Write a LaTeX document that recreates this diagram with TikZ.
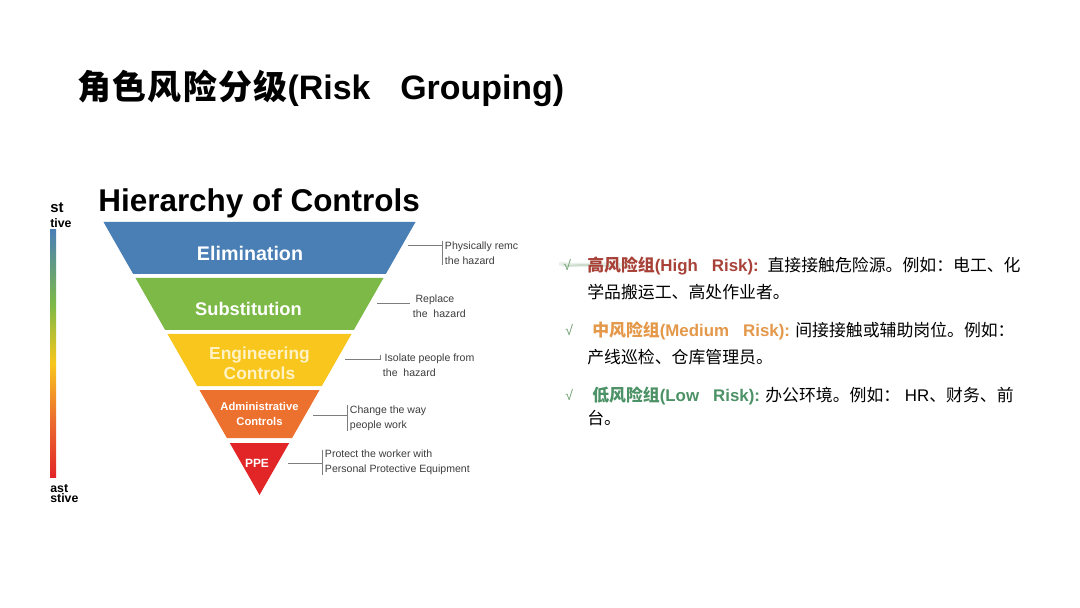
\documentclass[tikz,border=0pt]{standalone}
\usepackage{fontspec}
\setmainfont{Liberation Sans}
\newfontfamily\cjk{Noto Sans CJK SC}
\newfontfamily\cjkwide{Noto Sans CJK SC}[LetterSpace=4]
\usepackage{tikz}

\definecolor{elimblue}{RGB}{74,127,182}
\definecolor{subgreen}{RGB}{124,185,71}
\definecolor{engyellow}{RGB}{248,198,28}
\definecolor{admorange}{RGB}{236,112,46}
\definecolor{ppered}{RGB}{226,38,40}
\definecolor{engtext}{RGB}{255,242,196}
\definecolor{highred}{RGB}{168,66,56}
\definecolor{medorange}{RGB}{228,152,74}
\definecolor{lowgreen}{RGB}{76,146,102}
\definecolor{tickgreen}{RGB}{110,158,110}
\definecolor{notegrey}{RGB}{60,60,60}
\definecolor{leadgrey}{RGB}{125,125,125}

\pgfdeclareverticalshading{effbar}{100bp}{color(0bp)=(ppered); color(25bp)=(ppered);
  color(37bp)=(admorange); color(48bp)=(engyellow); color(60bp)=(subgreen);
  color(75bp)=(elimblue); color(100bp)=(elimblue)}

\begin{document}
\begin{tikzpicture}[x=0.02cm,y=-0.02cm]

%
% Styles
%
\tikzstyle{band}  = [inner sep=0pt,align=center,text=white]
\tikzstyle{note}  = [anchor=west,align=left,inner xsep=1.5pt,inner ysep=0pt,text=notegrey,font=\fontsize{6}{8.6}\selectfont]
\tikzstyle{lead}  = [draw=leadgrey,line width=0.4pt]
\tikzstyle{risk}  = [anchor=base west,inner sep=0pt,font=\fontsize{9.6}{12}\selectfont]
\tikzstyle{tick}  = [anchor=base west,inner sep=0pt,text=tickgreen,font=\fontsize{8}{10}\selectfont]
\tikzstyle{endlabel} = [anchor=base west,inner sep=0pt,font=\bfseries]

\useasboundingbox[fill=white] (0,0) rectangle (1080,608);

% Titles
\node[anchor=base west,inner sep=0pt,font=\bfseries\fontsize{19.3}{23}\selectfont] (title) at (77,100)
  {{\cjkwide 角色风险分级}(Risk\hspace{17pt}Grouping)};
\node[anchor=base west,inner sep=0pt,font=\bfseries\fontsize{17.9}{22}\selectfont] (hoc) at (98,212)
  {Hierarchy of Controls};

% Effectiveness bar
\shade[shading=effbar] (50,230) rectangle (56,477);
\node[endlabel,font=\bfseries\fontsize{8.5}{10}\selectfont] (most)  at (50,213) {st};
\node[endlabel,font=\bfseries\fontsize{7}{9}\selectfont]    (mosteff) at (50,228) {tive};
\node[endlabel,font=\bfseries\fontsize{7}{9}\selectfont]    (least) at (50,492) {ast};
\node[endlabel,font=\bfseries\fontsize{7}{9}\selectfont]    (leasteff) at (50,502) {stive};

% Pyramid
\fill[elimblue]  (103.5,222) -- (415.5,222) -- (385.8,274) -- (133.2,274) -- cycle;
\fill[subgreen]  (135.5,278) -- (383.5,278) -- (353.8,330) -- (165.2,330) -- cycle;
\fill[engyellow] (167.5,334) -- (351.5,334) -- (321.8,386) -- (197.2,386) -- cycle;
\fill[admorange] (199.5,390) -- (319.5,390) -- (292.1,438) -- (226.9,438) -- cycle;
\fill[ppered]    (229.8,443) -- (289.2,443) -- (259.5,495) -- cycle;

\node[band,font=\bfseries\fontsize{11.2}{13}\selectfont] (elim)  at (250,253) {Elimination};
\node[band,font=\bfseries\fontsize{10.4}{12}\selectfont] (subst) at (248.5,309) {Substitution};
\node[band,text=engtext,font=\bfseries\fontsize{9.9}{11.4}\selectfont] (engin) at (259.5,363) {Engineering\\Controls};
\node[band,font=\bfseries\fontsize{6.4}{8.4}\selectfont] (admin) at (259.5,414) {Administrative\\Controls};
\node[band,font=\bfseries\fontsize{6.8}{8}\selectfont]   (ppe)   at (257,463) {PPE};

% Notes
\node[note] (elimnote)  at (442,253) {Physically remc\\the hazard};
\node[note] (substnote) at (410,306) {\hspace*{1.5pt}Replace\\the\ \ hazard};
\node[note] (enginnote) at (380,365) {\hspace*{1pt}Isolate\ people\ from\\the\ \ hazard};
\node[note] (adminnote) at (347,418) {Change\ the\ way\\people\ work};
\node[note] (ppenote)   at (322,462.5) {Protect\ the\ worker\ with\\Personal\ Protective\ Equipment};

\coordinate (elimlead)  at (408,245);
\coordinate (substlead) at (377,303);
\coordinate (enginlead) at (345,359);
\coordinate (adminlead) at (313,415);
\coordinate (ppelead)   at (288,463);

\draw[lead] (elimlead) -- (elimlead -| elimnote.west);
\draw[lead] (elimnote.north west) -- (elimnote.south west);
\draw[lead] (substlead) -- (substlead -| substnote.west);
\draw[lead] (enginlead) -- (enginlead -| enginnote.west) -- ([yshift=-1pt]enginnote.north west);
\draw[lead] (adminlead) -- (adminlead -| adminnote.west);
\draw[lead] (adminnote.north west) -- (adminnote.south west);
\draw[lead] (ppelead) -- (ppelead -| ppenote.west);
\draw[lead] (ppenote.north west) -- (ppenote.south west);

% Risk groups
\draw[tickgreen!60,line width=2.5pt,opacity=0.25,line cap=round] (561,264) .. controls (580,267) and (605,262) .. (628,266);
\draw[tickgreen!80,line width=1pt,opacity=0.3,line cap=round] (566,266) .. controls (585,264) and (600,265) .. (615,267);
\node[tick] (tickhigh) at (563,271) {√};
\node[risk] (high1) at (587,272)
  {\textcolor{highred}{\bfseries{\cjk 高风险组}(High\hspace{8pt}Risk):}\hspace{5pt}{\cjk 直接接触危险源。例如：电工、化}};
\node[risk] (high2) at (587,298) {{\cjk 学品搬运工、高处作业者。}};

\node[tick] (tickmed) at (565,336) {√};
\node[risk] (med1) at (592,337)
  {\textcolor{medorange}{\bfseries{\cjk 中风险组}(Medium\hspace{8pt}Risk):}\hspace{3pt}{\cjk 间接接触或辅助岗位。例如：}};
\node[risk] (med2) at (587,363) {{\cjk 产线巡检、仓库管理员。}};

\node[tick] (ticklow) at (565,400) {√};
\node[risk] (low1) at (592,401)
  {\textcolor{lowgreen}{\bfseries{\cjk 低风险组}(Low\hspace{8pt}Risk):}\hspace{3pt}{\cjk 办公环境。例如：} HR{\cjk 、财务、前}};
\node[risk] (low2) at (587,424) {{\cjk 台。}};

\end{tikzpicture}
\end{document}
